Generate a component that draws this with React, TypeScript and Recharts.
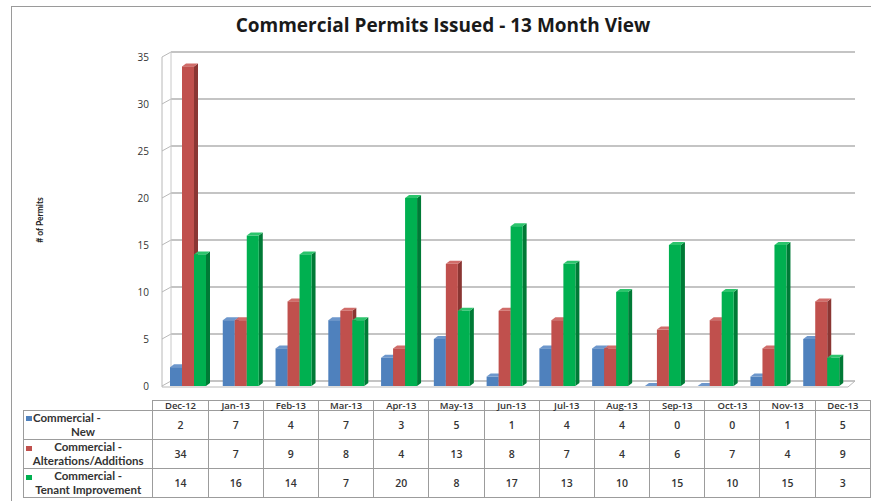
import React from 'react';
import { BarChart, Bar, XAxis, YAxis, CartesianGrid } from 'recharts';

const months = ['Dec-12', 'Jan-13', 'Feb-13', 'Mar-13', 'Apr-13', 'May-13', 'Jun-13', 'Jul-13', 'Aug-13', 'Sep-13', 'Oct-13', 'Nov-13', 'Dec-13'];
const newPermits = [2, 7, 4, 7, 3, 5, 1, 4, 4, 0, 0, 1, 5];
const alterations = [34, 7, 9, 8, 4, 13, 8, 7, 4, 6, 7, 4, 9];
const tenantImprovement = [14, 16, 14, 7, 20, 8, 17, 13, 10, 15, 10, 15, 3];
const yTicks = [0, 5, 10, 15, 20, 25, 30, 35];

const series = [
  { key: 'newP', values: newPermits, line1: 'Commercial -', line2: 'New', front: '#4F81BD', side: '#37598a', top: '#6d97cc' },
  { key: 'alt', values: alterations, line1: 'Commercial -', line2: 'Alterations/Additions', front: '#C0504D', side: '#8a3633', top: '#d06c69' },
  { key: 'ti', values: tenantImprovement, line1: 'Commercial -', line2: 'Tenant Improvement', front: '#00B050', side: '#007a36', top: '#2cc46c' },
];

const data = months.map((m, i) => ({
  month: m,
  newP: newPermits[i],
  alt: alterations[i],
  ti: tenantImprovement[i],
}));

const TOP = 57;
const BOTTOM = 386;
const LEFT = 162;
const RIGHT = 848;
const FONT = '"Open Sans", Lato, sans-serif';
const TABLE_FONT = 'Lato, "Open Sans", sans-serif';

const Bar3D = (props: any) => {
  const { x, y, width, height, front, side, top } = props;
  const d = 4;
  const r = 3;
  const b = y + height;
  return (
    <g>
      <polygon points={`${x + width},${y} ${x + width + d},${y - r} ${x + width + d},${b - r} ${x + width},${b}`} fill={side} />
      <polygon points={`${x},${y} ${x + d},${y - r} ${x + width + d},${y - r} ${x + width},${y}`} fill={top} />
      <rect x={x} y={y} width={width} height={Math.max(height, 0)} fill={front} />
    </g>
  );
};

const GridLine = (props: any) => {
  const { x1, x2, y1, index } = props;
  const y = y1;
  const dx = 9;
  const dy = 5;
  const isFloor = Math.abs(y - BOTTOM) < 1;
  const isTop = Math.abs(y - TOP) < 1;
  return (
    <g key={`g-${index}`}>
      <line x1={x1} y1={y} x2={x1 + dx} y2={y - dy} stroke="#b8b8b8" strokeWidth={1} />
      <line x1={x1 + dx} y1={y - dy} x2={x2 + 7} y2={y - dy} stroke="#b0b0b0" strokeWidth={1.5} />
      {isFloor && (
        <>
          <line x1={x1} y1={y + 1} x2={x2} y2={y + 1} stroke="#b8b8b8" strokeWidth={1} />
          <line x1={x2} y1={y + 1} x2={x2 + 7} y2={y - dy} stroke="#b8b8b8" strokeWidth={1} />
        </>
      )}
      {isTop && (
        <>
          <line x1={x1} y1={y} x2={x1} y2={BOTTOM + 1} stroke="#b8b8b8" strokeWidth={1} />
          <line x1={x1 + dx} y1={y - dy} x2={x1 + dx} y2={BOTTOM - dy} stroke="#c8c8c8" strokeWidth={1} />
        </>
      )}
    </g>
  );
};

const colW = 54.45;
const rowH = 28.7;

const cellBorder = '1px solid #9c9c9c';

export default function App() {
  return (
    <div style={{ position: 'absolute', left: 0, top: 0, width: 871, height: 501, background: '#fff', overflow: 'hidden', fontFamily: FONT }}>
      <div style={{ position: 'absolute', left: 11, top: 6, width: 870, height: 520, borderLeft: '1.5px solid #9a9a9a', borderTop: '1.5px solid #9a9a9a' }} />
      <div style={{ position: 'absolute', left: 0, width: 886, top: 12, textAlign: 'center', fontSize: 19, fontWeight: 700, color: '#1a1a1a', fontFamily: FONT }}>
        Commercial Permits Issued - 13 Month View
      </div>
      <div style={{ position: 'absolute', left: 40, top: 220, transform: 'translate(-50%, -50%) rotate(-90deg)', fontSize: 8.5, fontWeight: 700, color: '#222', whiteSpace: 'nowrap', fontFamily: 'Lato, sans-serif' }}>
        # of Permits
      </div>
      <div style={{ position: 'absolute', left: 0, top: 0 }}>
        <BarChart
          width={871}
          height={501}
          data={data}
          margin={{ top: TOP, bottom: 501 - BOTTOM, left: LEFT - 30, right: 871 - RIGHT }}
          barGap={0}
          barSize={12}
        >
          <CartesianGrid vertical={false} horizontal={(p: any) => <GridLine {...p} />} />
          <XAxis dataKey="month" hide />
          <YAxis
            width={30}
            domain={[0, 35]}
            ticks={yTicks}
            tickLine={false}
            axisLine={false}
            tickSize={0}
            tickMargin={13}
            tick={{ fontSize: 10, fill: '#333', fontFamily: FONT }}
          />
          {series.map((s) => (
            <Bar
              key={s.key}
              dataKey={s.key}
              isAnimationActive={false}
              shape={(p: any) => <Bar3D {...p} front={s.front} side={s.side} top={s.top} />}
            />
          ))}
        </BarChart>
      </div>
      <table
        style={{
          position: 'absolute',
          left: 23,
          top: 400,
          borderCollapse: 'collapse',
          tableLayout: 'fixed',
          fontFamily: FONT,
          color: '#333',
        }}
      >
        <tbody>
          <tr style={{ height: 10 }}>
            <td style={{ width: 129, padding: 0 }} />
            {months.map((m) => (
              <td key={m} style={{ width: colW, padding: 0, border: cellBorder, fontSize: 9.5, lineHeight: '9px', textAlign: 'center', fontWeight: 600 }}>
                {m}
              </td>
            ))}
          </tr>
          {series.map((s, si) => (
            <tr key={s.key} style={{ height: rowH }}>
              <td style={{ padding: 0, border: cellBorder, position: 'relative', fontSize: 11.5, fontWeight: 700, lineHeight: '14px', overflow: 'hidden', fontFamily: TABLE_FONT }}>
                <span style={{ position: 'absolute', left: 2, top: si === 0 ? 5 : 6, width: 6, height: 5, background: s.front }} />
                {si === 0 ? (
                  <div>
                    <div style={{ paddingLeft: 9 }}>{s.line1}</div>
                    <div style={{ paddingLeft: 47 }}>{s.line2}</div>
                  </div>
                ) : (
                  <div style={{ textAlign: 'center' }}>
                    <div>{s.line1}</div>
                    <div style={{ whiteSpace: 'nowrap' }}>{s.line2}</div>
                  </div>
                )}
              </td>
              {s.values.map((v, i) => (
                <td key={i} style={{ padding: 0, border: cellBorder, textAlign: 'center', fontSize: 10.5, fontWeight: 600 }}>
                  {v}
                </td>
              ))}
            </tr>
          ))}
        </tbody>
      </table>
    </div>
  );
}
